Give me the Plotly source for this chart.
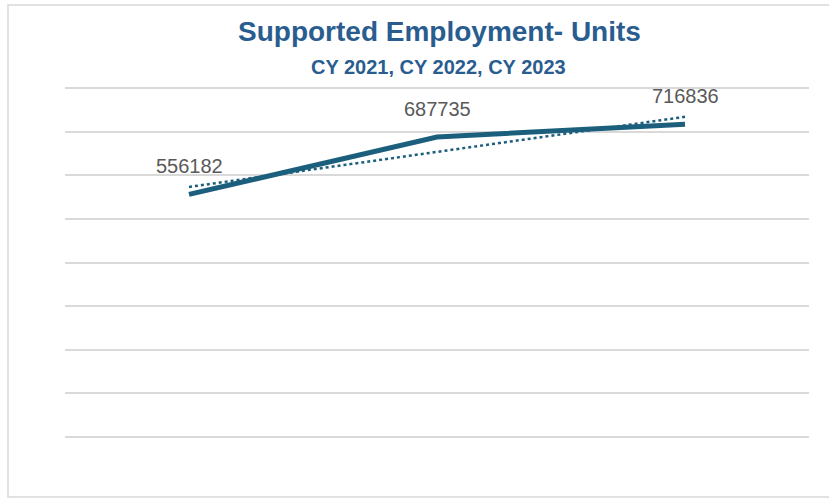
import plotly.graph_objects as go
import numpy as np

categories = ["CY 2021", "CY 2022", "CY 2023"]
units = [556182, 687735, 716836]
y_ticks = [0, 100000, 200000, 300000, 400000, 500000, 600000, 700000, 800000]

title_text = "Supported Employment- Units"
subtitle_text = "CY 2021, CY 2022, CY 2023"

xs = np.arange(len(categories))
slope, intercept = np.polyfit(xs, units, 1)
trend = (slope * xs + intercept).tolist()

line_color = "#1c5f7d"

fig = go.Figure()
fig.add_trace(go.Scatter(x=categories, y=trend, mode="lines",
                         line=dict(color=line_color, width=2.5, dash="dot"),
                         hoverinfo="skip", showlegend=False))
fig.add_trace(go.Scatter(x=categories, y=units, mode="lines",
                         line=dict(color=line_color, width=5),
                         showlegend=False))

for c, v in zip(categories, units):
    fig.add_annotation(x=c, y=v, text=str(v), showarrow=False, yshift=28,
                       font=dict(family="Liberation Sans, Arial", size=20, color="#595959"))

W, H = 829, 499
L, R, T, B = 65, 20, 86, 60
pw, ph = W - L - R, H - T - B
pad = 100000 * 2 / 43.625

def px_x(p):
    return (p - L) / pw

def px_y(p):
    return (H - B - p) / ph

fig.add_annotation(xref="paper", yref="paper", x=px_x(439), y=px_y(32), text=f"<b>{title_text}</b>",
                   showarrow=False, xanchor="center", yanchor="middle",
                   font=dict(family="Liberation Sans Narrow, Arial Narrow, Arial", size=28, color="#2a5d8f"))
fig.add_annotation(xref="paper", yref="paper", x=px_x(438), y=px_y(67), text=f"<b>{subtitle_text}</b>",
                   showarrow=False, xanchor="center", yanchor="middle",
                   font=dict(family="Liberation Sans Narrow, Arial Narrow, Arial", size=20, color="#2a5d8f"))

fig.add_shape(type="rect", xref="paper", yref="paper",
              x0=px_x(8), x1=px_x(840), y0=px_y(497), y1=px_y(5),
              line=dict(color="#d9d9d9", width=1.5), fillcolor="rgba(0,0,0,0)", layer="below")

fig.update_layout(
    width=W, height=H,
    margin=dict(l=L, r=R, t=T, b=B),
    paper_bgcolor="white", plot_bgcolor="white",
    xaxis=dict(type="category", range=[-0.5, 2.5], showgrid=False, showticklabels=False,
               zeroline=False, showline=False, ticks=""),
    yaxis=dict(range=[-pad, 800000 + pad], tickvals=y_ticks, showticklabels=False, showgrid=True,
               gridcolor="#d9d9d9", gridwidth=1.5, zeroline=False, showline=False, ticks=""),
)

fig.write_html("out.html", config={"displayModeBar": False},
               post_script="document.body.style.margin='0';document.body.style.padding='0';")
